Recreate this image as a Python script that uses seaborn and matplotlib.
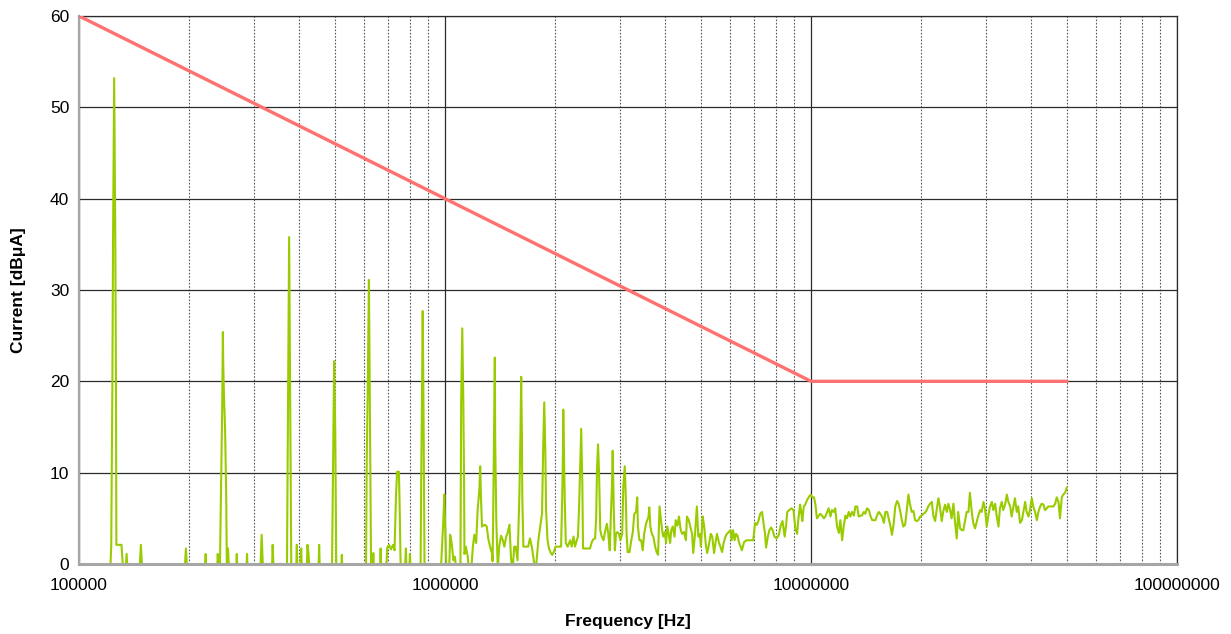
import numpy as np
import pandas as pd
import matplotlib
matplotlib.use("Agg")
import matplotlib.pyplot as plt
from matplotlib.ticker import LogLocator, NullFormatter
import seaborn as sns

# --- DATA ---
# measured spectrum: frequency stored as log10(Hz), level in dBuA
log_freq = [
    5.083, 5.086, 5.088, 5.091, 5.093, 5.096, 5.099, 5.101, 5.102, 5.116, 5.121,
    5.127, 5.130, 5.133, 5.165, 5.169, 5.173, 5.288, 5.292, 5.296, 5.343, 5.346, 5.348,
    5.377, 5.379, 5.382, 5.385, 5.388, 5.391, 5.393, 5.394, 5.396, 5.399, 5.402, 5.404,
    5.407, 5.410, 5.429, 5.431, 5.433, 5.457, 5.459, 5.461, 5.495, 5.499, 5.503,
    5.527, 5.529, 5.532, 5.568, 5.570, 5.572, 5.574, 5.576, 5.578, 5.580,
    5.593, 5.595, 5.597, 5.604, 5.607, 5.609, 5.622, 5.624, 5.627, 5.630, 5.654, 5.656, 5.658,
    5.691, 5.695, 5.697, 5.700, 5.703, 5.716, 5.718, 5.720,
    5.784, 5.786, 5.789, 5.792, 5.794, 5.796, 5.798, 5.802, 5.804, 5.806, 5.822, 5.824, 5.826,
    5.839, 5.842, 5.847, 5.852, 5.858, 5.862, 5.866, 5.869, 5.874, 5.876, 5.879,
    5.890, 5.893, 5.895, 5.902, 5.904, 5.906, 5.933, 5.935, 5.937, 5.939, 5.941, 5.944,
    5.988, 5.990, 5.995, 5.998, 6.002, 6.004, 6.011, 6.014, 6.018, 6.023, 6.027, 6.031,
    6.042, 6.044, 6.047, 6.050, 6.052, 6.053, 6.057, 6.062, 6.066, 6.071, 6.076, 6.080, 6.085, 6.089,
    6.094, 6.096, 6.098, 6.101, 6.105, 6.109, 6.114, 6.118, 6.123, 6.128, 6.130,
    6.132, 6.134, 6.136, 6.137, 6.140, 6.144, 6.148, 6.153, 6.158, 6.162, 6.167, 6.171, 6.176, 6.180, 6.184,
    6.189, 6.193, 6.198, 6.203, 6.206, 6.208, 6.210, 6.211, 6.214, 6.227, 6.232, 6.237, 6.241, 6.247,
    6.251, 6.255, 6.260, 6.265, 6.268, 6.271, 6.274, 6.276, 6.280, 6.284, 6.289, 6.293, 6.298, 6.302,
    6.317, 6.320, 6.322, 6.323, 6.325, 6.327, 6.330, 6.335, 6.342, 6.346, 6.351, 6.355, 6.360, 6.363,
    6.366, 6.369, 6.372, 6.375, 6.377, 6.396, 6.401, 6.405, 6.410, 6.413, 6.415, 6.418, 6.421, 6.424,
    6.428, 6.433, 6.437, 6.442, 6.446, 6.450, 6.453, 6.456, 6.458, 6.461, 6.464, 6.467, 6.471, 6.475, 6.479,
    6.484, 6.487, 6.491, 6.494, 6.496, 6.499, 6.504, 6.508, 6.513, 6.517, 6.522, 6.525, 6.527, 6.531,
    6.536, 6.540, 6.544, 6.549, 6.556, 6.558, 6.561, 6.565, 6.569, 6.574, 6.578, 6.582, 6.586, 6.589,
    6.593, 6.596, 6.600, 6.604, 6.607, 6.611, 6.615, 6.618, 6.622, 6.627, 6.630, 6.635, 6.639, 6.644,
    6.648, 6.653, 6.658, 6.661, 6.666, 6.670, 6.675, 6.678, 6.683, 6.688, 6.692, 6.696, 6.699, 6.704,
    6.708, 6.712, 6.716, 6.720, 6.726, 6.730, 6.735, 6.740, 6.743, 6.748, 6.752, 6.757, 6.761, 6.766,
    6.770, 6.775, 6.780, 6.783, 6.787, 6.791, 6.795, 6.799, 6.803, 6.811, 6.817, 6.824, 6.842, 6.847,
    6.852, 6.856, 6.861, 6.866, 6.870, 6.874, 6.877, 6.882, 6.886, 6.891, 6.895, 6.900, 6.906, 6.912,
    6.917, 6.922, 6.924, 6.928, 6.932, 6.935, 6.940, 6.947, 6.952, 6.957, 6.962, 6.965, 6.970, 6.973,
    6.976, 6.980, 6.984, 6.989, 6.995, 6.999, 7.004, 7.008, 7.012, 7.016, 7.021, 7.025, 7.030, 7.035,
    7.039, 7.044, 7.048, 7.053, 7.057, 7.062, 7.066, 7.071, 7.076, 7.080, 7.085, 7.089, 7.094, 7.098,
    7.103, 7.107, 7.112, 7.117, 7.121, 7.126, 7.130, 7.135, 7.139, 7.144, 7.148, 7.153, 7.158, 7.162,
    7.167, 7.176, 7.180, 7.185, 7.189, 7.194, 7.199, 7.203, 7.208, 7.212, 7.217, 7.221, 7.226, 7.230,
    7.235, 7.239, 7.243, 7.248, 7.252, 7.257, 7.261, 7.266, 7.270, 7.275, 7.280, 7.284, 7.289, 7.293,
    7.298, 7.302, 7.307, 7.311, 7.316, 7.320, 7.325, 7.330, 7.334, 7.339, 7.343, 7.348, 7.352, 7.357,
    7.361, 7.366, 7.371, 7.375, 7.380, 7.384, 7.389, 7.393, 7.398, 7.402, 7.407, 7.412, 7.416, 7.421,
    7.425, 7.430, 7.434, 7.439, 7.443, 7.448, 7.453, 7.457, 7.462, 7.466, 7.471, 7.475, 7.480, 7.484,
    7.489, 7.494, 7.498, 7.503, 7.507, 7.512, 7.516, 7.521, 7.525, 7.530, 7.535, 7.539, 7.544, 7.548,
    7.553, 7.557, 7.562, 7.566, 7.571, 7.576, 7.580, 7.585, 7.589, 7.594, 7.598, 7.603, 7.607, 7.612,
    7.617, 7.621, 7.626, 7.630, 7.635, 7.639, 7.644, 7.648, 7.662, 7.667, 7.671, 7.676, 7.680, 7.685,
    7.689, 7.694, 7.699,
]

level_dbua = [
    -1, 0, 2.0, 19, 36, 53.2, 36, 19, 2.1, 2.1, -1,
    -1, 1.1, -1, -1, 2.1, -1, -1, 1.7, -1, -1, 1.1, -1,
    -1, 1.1, -1, 0, 8, 16.6, 25.4, 22, 18.4, 14.8, 7.9, -1,
    1.7, -1, -1, 1.1, -1, -1, 1.1, -1, -1, 3.2, -1,
    -1, 2.1, -1, -1, 11.2, 23.5, 35.8, 23.5, 11.2, -1,
    -1, 2.1, -1, -1, 1.7, -1, -1, 2.1, 1.2, -1, -1, 2.1, -1,
    -1, 15.2, 22.2, 14.4, -1, -1, 1.0, -1,
    -1, 11.2, 20, 31.1, 20, 9.8, -1, -1, 1.2, -1, -1, 1.7, -1,
    -1, 1.8, 2.1, 1.6, 2.1, 1.5, 7.5, 10.1, 10.1, 6.2, -1,
    -1, 1.7, -1, -1, 1.1, -1, -1, 9.5, 18.2, 27.7, 18.2, -1,
    -1, 0.5, 4.5, 7.6, 1.9, -1, -1, 3.2, 2.3, 0.4, 0.8, -1,
    -1, 17.6, 25.8, 17.6, 9.1, 1.1, 1.9, 0.8, -1, -1, 1.9, 3.2, 2.3, 5.9,
    8.3, 10.7, 7.4, 4.1, 4.2, 4.3, 4.1, 2.8, 1.9, 1.2, 0.3,
    7.0, 15.4, 22.6, 13.6, 4.8, -0.5, 1.9, 3.1, 2.6, 1.9, 3.0, 3.4, 4.3, 0.8, -1,
    1.9, 1.9, 0.4, 7.4, 14.3, 20.5, 14.0, 7.5, 1.9, 1.9, 2.8, 1.9, 0.8, -1,
    0.8, 2.6, 4.1, 5.5, 12.5, 17.7, 12.2, 6.0, 2.6, 1.7, 1.2, 1.0, 1.4, 1.9,
    1.9, 7.1, 12.0, 16.9, 11.8, 7.1, 2.3, 1.9, 2.6, 1.9, 3.0, 1.9, 2.6, 3.0,
    6.0, 10.3, 14.8, 9.0, 1.7, 1.7, 2.4, 2.7, 2.8, 5.2, 10.1, 13.1, 9.6, 3.7,
    3.0, 2.6, 3.5, 4.4, 3.3, 1.5, 5.2, 8.5, 12.4, 6.0, 1.5, 3.3, 3.5, 3.3, 2.6,
    3.3, 8.5, 10.7, 7.1, 3.3, 1.3, 1.3, 2.4, 3.5, 5.5, 5.7, 7.3, 4.1, 2.6,
    2.6, 1.5, 3.3, 4.4, 5.2, 6.2, 4.1, 3.3, 3.0, 1.9, 1.3, 1.0, 6.3, 5.2,
    3.7, 3.0, 3.5, 2.3, 4.1, 3.3, 2.3, 3.7, 4.1, 3.0, 4.8, 4.2, 5.2, 3.7,
    3.3, 3.5, 2.6, 5.2, 4.8, 4.1, 3.3, 1.2, 3.3, 6.3, 3.0, 3.3, 1.9, 5.2,
    4.1, 2.3, 1.2, 1.9, 3.3, 3.0, 1.2, 2.6, 3.3, 2.4, 1.9, 1.3, 2.3, 3.0,
    3.3, 3.5, 3.7, 2.6, 3.7, 2.6, 3.3, 3.1, 2.4, 1.5, 2.4, 2.6, 2.6, 4.5,
    4.3, 4.7, 5.5, 5.7, 4.5, 3.4, 1.8, 3.0, 3.7, 4.0, 3.7, 3.0, 2.8, 3.2,
    4.2, 4.7, 4.1, 3.0, 4.3, 5.7, 5.9, 6.1, 5.9, 3.9, 3.3, 4.8, 6.5, 5.7,
    4.7, 6.3, 6.5, 7.0, 7.4, 7.6, 7.3, 7.3, 6.5, 5.0, 5.3, 5.5, 5.3, 5.0,
    5.2, 5.7, 6.1, 5.2, 5.9, 5.7, 6.1, 4.1, 3.4, 4.8, 2.6, 4.1, 5.3, 5.0,
    5.7, 5.2, 5.7, 5.3, 6.3, 6.3, 5.2, 5.3, 5.3, 5.7, 5.5, 6.1, 5.9, 5.3,
    4.8, 4.8, 5.3, 5.7, 5.5, 5.2, 4.5, 5.7, 5.7, 5.0, 4.1, 3.2, 4.5, 6.3,
    6.9, 6.6, 5.9, 4.8, 4.1, 4.3, 5.7, 7.6, 6.6, 5.7, 5.8, 4.8, 4.7, 4.8,
    5.2, 5.3, 5.5, 5.6, 5.9, 6.3, 6.6, 6.8, 5.3, 4.7, 5.9, 7.2, 6.3, 4.7,
    5.7, 6.5, 5.7, 6.6, 5.9, 5.0, 6.6, 4.7, 2.8, 5.7, 3.9, 3.7, 3.7, 4.8,
    5.7, 5.7, 7.8, 5.7, 4.5, 3.9, 4.7, 5.3, 5.9, 5.7, 6.8, 6.1, 4.1, 5.2,
    6.3, 6.8, 5.9, 6.6, 5.3, 4.1, 6.1, 6.8, 5.9, 6.5, 7.6, 6.8, 6.3, 5.2,
    6.3, 7.2, 5.7, 6.3, 4.5, 4.8, 5.7, 6.8, 5.7, 5.2, 5.9, 7.2, 6.3, 5.7,
    4.8, 5.7, 6.3, 6.6, 6.5, 5.9, 6.1, 6.3, 6.3, 6.6, 7.3, 6.8, 5.0, 7.3,
    7.6, 7.8, 8.4,
]

# limit line
limit_freq = [1e5, 1e7, 5e7]
limit_level = [60, 20, 20]

x_ticks = [1e5, 1e6, 1e7, 1e8]
x_tick_labels = ["100000", "1000000", "10000000", "100000000"]
y_ticks = [0, 10, 20, 30, 40, 50, 60]

assert len(log_freq) == len(level_dbua)

spectrum = pd.DataFrame({
    "freq": np.power(10.0, np.array(log_freq)),
    "level": level_dbua,
})
limit = pd.DataFrame({"freq": limit_freq, "level": limit_level})

# --- PLOT ---
sns.set_style("white")
plt.rcParams["font.family"] = ["Liberation Sans", "DejaVu Sans"]

fig = plt.figure(figsize=(12.31, 6.34), dpi=100)
ax = fig.add_axes([0.0642, 0.1104, 0.8920, 0.8644])

sns.lineplot(data=spectrum, x="freq", y="level", ax=ax, color="#99CC00",
             linewidth=1.5, estimator=None, sort=False, zorder=3)
sns.lineplot(data=limit, x="freq", y="level", ax=ax, color="#FF7070",
             linewidth=2.4, estimator=None, sort=False, zorder=4)

ax.set_xscale("log")
ax.set_xlim(1e5, 1e8)
ax.set_ylim(0, 60)
ax.set_xticks(x_ticks)
ax.set_xticklabels(x_tick_labels)
ax.xaxis.set_minor_locator(LogLocator(base=10, subs=range(2, 10)))
ax.xaxis.set_minor_formatter(NullFormatter())
ax.set_yticks(y_ticks)

ax.grid(which="major", axis="both", color="#2b2b2b", linewidth=0.9, linestyle="-")
ax.grid(which="minor", axis="x", color="#5a5a5a", linewidth=0.8, linestyle=(0, (1.5, 1.5)))

for side in ["top", "right"]:
    ax.spines[side].set_color("#2b2b2b")
    ax.spines[side].set_linewidth(0.9)
ax.spines["left"].set_color("#a6a6a6")
ax.spines["left"].set_linewidth(1.6)
ax.spines["bottom"].set_color("#a6a6a6")
ax.spines["bottom"].set_linewidth(2.2)
ax.spines["bottom"].set_zorder(5)

ax.tick_params(axis="x", which="major", direction="out", length=5, width=1,
               color="#a6a6a6", labelsize=12.5, pad=5, labelcolor="black")
ax.tick_params(axis="x", which="minor", direction="in", length=4, width=0.8,
               color="#a6a6a6")
ax.tick_params(axis="y", which="major", direction="out", length=4, width=0.9,
               color="#2b2b2b", labelsize=12.5, pad=3, labelcolor="black")

ax.set_xlabel("Frequency [Hz]", fontsize=12.5, fontweight="bold", labelpad=15, color="black")
ax.set_ylabel("Current [dBμA]", fontsize=12.5, fontweight="bold", labelpad=17, color="black")
if ax.get_legend() is not None:
    ax.get_legend().remove()

fig.savefig("out.png", dpi=100)
